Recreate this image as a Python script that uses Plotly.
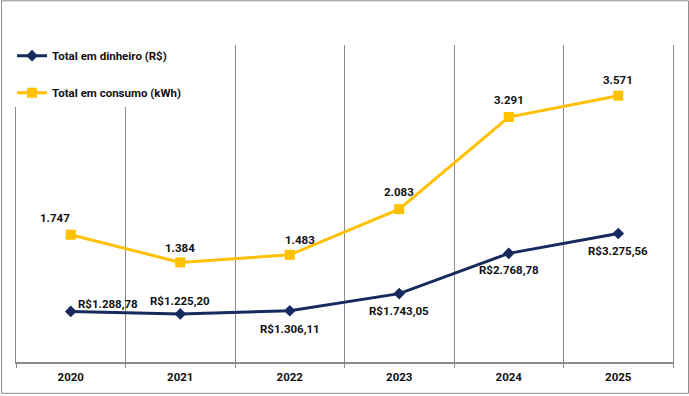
import plotly.graph_objects as go

years = ["2020", "2021", "2022", "2023", "2024", "2025"]
dinheiro = [1288.78, 1225.20, 1306.11, 1743.05, 2768.78, 3275.56]
dinheiro_labels = ["R$1.288,78", "R$1.225,20", "R$1.306,11", "R$1.743,05", "R$2.768,78", "R$3.275,56"]
consumo = [1747, 1384, 1483, 2083, 3291, 3571]
consumo_labels = ["1.747", "1.384", "1.483", "2.083", "3.291", "3.571"]

NAVY = "#172A5E"
GOLD = "#FFC000"
GRID = "#8A8A8A"
TXT = "#111111"
FONT = "Roboto, Arial, sans-serif"

W, H = 689, 396
L, R, T, B = 15, 16, 45, 32
pw, ph = W - L - R, H - T - B

# label offsets in pixels (style)
din_shift = [(37, 7), (0, 13), (0, -18), (0, -17), (0, -17), (0, -18)]
con_shift = [(-16, 17), (0, 14), (10, 15), (0, 17), (0, 17), (0, 16)]

fig = go.Figure()
fig.add_trace(go.Scatter(
    x=years, y=dinheiro, name="Total em dinheiro (R$)",
    mode="lines+markers",
    line=dict(color=NAVY, width=3),
    marker=dict(symbol="diamond", size=9, color=NAVY),
    legendgroup="a",
))
fig.add_trace(go.Scatter(
    x=years, y=consumo, name="Total em consumo (kWh)", yaxis="y2",
    mode="lines+markers",
    line=dict(color=GOLD, width=3),
    marker=dict(symbol="square", size=10, color=GOLD),
    legendgroup="b",
))

lab_font = dict(family=FONT, size=11.5, color=TXT)
for i, (v, t, (dx, dy)) in enumerate(zip(dinheiro, dinheiro_labels, din_shift)):
    fig.add_annotation(x=i, y=v, xref="x", yref="y", text="<b>" + t + "</b>",
                       showarrow=False, xshift=dx, yshift=dy, font=lab_font)
for i, (v, t, (dx, dy)) in enumerate(zip(consumo, consumo_labels, con_shift)):
    fig.add_annotation(x=i, y=v, xref="x", yref="y2", text="<b>" + t + "</b>",
                       showarrow=False, xshift=dx, yshift=dy, font=lab_font)

# outer frame
fig.add_shape(type="rect", xref="paper", yref="paper",
              x0=(0.5 - L) / pw, x1=(W - 0.5 - L) / pw,
              y0=(H - B - (H - 0.5)) / ph, y1=(H - B - 0.5) / ph,
              line=dict(color="#8C8C8C", width=1), layer="below")

fig.update_layout(
    width=W, height=H,
    margin=dict(l=L, r=R, t=T, b=B),
    paper_bgcolor="white", plot_bgcolor="white",
    font=dict(family=FONT, size=12, color=TXT),
    showlegend=True,
    legend=dict(x=-0.006, y=1.012, xanchor="left", yanchor="top",
                bgcolor="white", borderwidth=0,
                font=dict(family=FONT, size=11.5, color=TXT, weight="bold"),
                traceorder="grouped", tracegroupgap=18, itemwidth=30),
    xaxis=dict(type="category", tickson="boundaries", range=[-0.5, 5.5],
               showgrid=True, gridcolor=GRID, gridwidth=1,
               showline=True, linecolor=GRID, linewidth=1.5,
               ticks="outside", ticklen=4, tickcolor=GRID, tickwidth=1,
               tickfont=dict(family=FONT, size=11.5, color=TXT, weight="bold"),
               ticklabelstandoff=3,
               zeroline=False, fixedrange=True),
    yaxis=dict(range=[0, 8080], showgrid=False, zeroline=False,
               showticklabels=False, ticks="",
               showline=True, mirror=True, linecolor=GRID, linewidth=1),
    yaxis2=dict(range=[77, 4236], overlaying="y", side="right", visible=False,
                showgrid=False, zeroline=False),
)

fig.write_html("out.html", config={"displayModeBar": False},
               post_script="document.body.style.margin='0';document.body.style.padding='0';")
